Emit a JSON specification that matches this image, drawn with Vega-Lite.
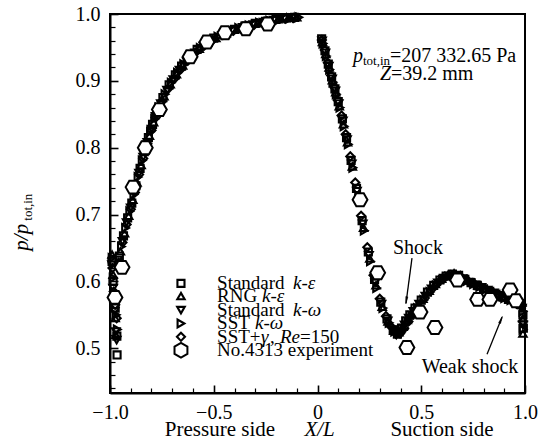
{
  "$schema": "https://vega.github.io/schema/vega-lite/v6.json",
  "width": 415,
  "height": 379,
  "autosize": "none",
  "padding": {"left": 110, "top": 14, "right": 17, "bottom": 48},
  "background": "white",
  "config": {
    "view": {"stroke": "black", "strokeWidth": 2},
    "font": "Liberation Serif"
  },
  "resolve": {"axis": {"x": "independent", "y": "independent"}},
  "datasets": {
    "cfd": [
      {"m":"a","x":-0.99,"y":0.63},{"m":"a","x":-0.985,"y":0.6},{"m":"a","x":-0.975,"y":0.56},{"m":"a","x":-0.967,"y":0.518},{"m":"a","x":-0.966,"y":0.49},{"m":"a","x":-0.955,"y":0.638},{"m":"a","x":-0.935,"y":0.668},{"m":"a","x":-0.915,"y":0.695},{"m":"a","x":-0.895,"y":0.717},{"m":"a","x":-0.875,"y":0.743},{"m":"a","x":-0.855,"y":0.769},{"m":"a","x":-0.835,"y":0.794},{"m":"a","x":-0.815,"y":0.815},{"m":"a","x":-0.795,"y":0.835},{"m":"a","x":-0.775,"y":0.853},{"m":"a","x":-0.745,"y":0.875},{"m":"a","x":-0.715,"y":0.894},{"m":"a","x":-0.685,"y":0.909},{"m":"a","x":-0.655,"y":0.922},{"m":"a","x":-0.62,"y":0.935},{"m":"a","x":-0.58,"y":0.947},{"m":"a","x":-0.54,"y":0.956},{"m":"a","x":-0.5,"y":0.964},{"m":"a","x":-0.45,"y":0.971},{"m":"a","x":-0.4,"y":0.977},{"m":"a","x":-0.35,"y":0.982},{"m":"a","x":-0.3,"y":0.986},{"m":"a","x":-0.25,"y":0.989},{"m":"a","x":-0.2,"y":0.992},{"m":"a","x":-0.15,"y":0.994},{"m":"a","x":-0.11,"y":0.995},
      {"m":"a","x":0.02,"y":0.963},{"m":"a","x":0.036,"y":0.945},{"m":"a","x":0.052,"y":0.925},{"m":"a","x":0.068,"y":0.906},{"m":"a","x":0.084,"y":0.888},{"m":"a","x":0.1,"y":0.869},{"m":"a","x":0.12,"y":0.843},{"m":"a","x":0.14,"y":0.815},{"m":"a","x":0.162,"y":0.781},{"m":"a","x":0.188,"y":0.739},{"m":"a","x":0.215,"y":0.691},{"m":"a","x":0.245,"y":0.644},{"m":"a","x":0.275,"y":0.603},{"m":"a","x":0.305,"y":0.569},{"m":"a","x":0.335,"y":0.544},{"m":"a","x":0.365,"y":0.527},{"m":"a","x":0.385,"y":0.521},{"m":"a","x":0.405,"y":0.53},{"m":"a","x":0.425,"y":0.541},{"m":"a","x":0.445,"y":0.55},{"m":"a","x":0.47,"y":0.56},{"m":"a","x":0.5,"y":0.572},{"m":"a","x":0.53,"y":0.584},{"m":"a","x":0.56,"y":0.594},{"m":"a","x":0.59,"y":0.602},{"m":"a","x":0.62,"y":0.608},{"m":"a","x":0.65,"y":0.611},{"m":"a","x":0.68,"y":0.609},{"m":"a","x":0.71,"y":0.603},{"m":"a","x":0.74,"y":0.598},{"m":"a","x":0.77,"y":0.594},{"m":"a","x":0.8,"y":0.589},{"m":"a","x":0.83,"y":0.585},{"m":"a","x":0.86,"y":0.581},{"m":"a","x":0.89,"y":0.577},{"m":"a","x":0.92,"y":0.573},{"m":"a","x":0.95,"y":0.571},{"m":"a","x":0.975,"y":0.567},{"m":"a","x":0.99,"y":0.55},{"m":"a","x":0.992,"y":0.53},
      {"m":"b","x":-0.99,"y":0.64},{"m":"b","x":-0.985,"y":0.61},{"m":"b","x":-0.98,"y":0.575},{"m":"b","x":-0.975,"y":0.545},{"m":"b","x":-0.972,"y":0.52},{"m":"b","x":-0.95,"y":0.645},{"m":"b","x":-0.93,"y":0.672},{"m":"b","x":-0.91,"y":0.698},{"m":"b","x":-0.89,"y":0.722},{"m":"b","x":-0.87,"y":0.748},{"m":"b","x":-0.85,"y":0.774},{"m":"b","x":-0.83,"y":0.798},{"m":"b","x":-0.81,"y":0.818},{"m":"b","x":-0.79,"y":0.838},{"m":"b","x":-0.77,"y":0.856},{"m":"b","x":-0.74,"y":0.877},{"m":"b","x":-0.71,"y":0.895},{"m":"b","x":-0.68,"y":0.91},{"m":"b","x":-0.65,"y":0.923},{"m":"b","x":-0.61,"y":0.937},{"m":"b","x":-0.57,"y":0.948},{"m":"b","x":-0.53,"y":0.957},{"m":"b","x":-0.49,"y":0.964},{"m":"b","x":-0.44,"y":0.971},{"m":"b","x":-0.39,"y":0.977},{"m":"b","x":-0.34,"y":0.982},{"m":"b","x":-0.29,"y":0.986},{"m":"b","x":-0.24,"y":0.989},{"m":"b","x":-0.19,"y":0.992},{"m":"b","x":-0.14,"y":0.994},{"m":"b","x":-0.1,"y":0.995},
      {"m":"b","x":0.024,"y":0.958},{"m":"b","x":0.04,"y":0.94},{"m":"b","x":0.056,"y":0.92},{"m":"b","x":0.072,"y":0.901},{"m":"b","x":0.088,"y":0.883},{"m":"b","x":0.105,"y":0.862},{"m":"b","x":0.125,"y":0.835},{"m":"b","x":0.145,"y":0.808},{"m":"b","x":0.168,"y":0.772},{"m":"b","x":0.195,"y":0.727},{"m":"b","x":0.222,"y":0.68},{"m":"b","x":0.252,"y":0.634},{"m":"b","x":0.282,"y":0.594},{"m":"b","x":0.312,"y":0.562},{"m":"b","x":0.34,"y":0.54},{"m":"b","x":0.368,"y":0.526},{"m":"b","x":0.392,"y":0.524},{"m":"b","x":0.412,"y":0.532},{"m":"b","x":0.432,"y":0.542},{"m":"b","x":0.452,"y":0.551},{"m":"b","x":0.478,"y":0.562},{"m":"b","x":0.508,"y":0.574},{"m":"b","x":0.538,"y":0.586},{"m":"b","x":0.568,"y":0.596},{"m":"b","x":0.598,"y":0.604},{"m":"b","x":0.628,"y":0.609},{"m":"b","x":0.658,"y":0.612},{"m":"b","x":0.688,"y":0.609},{"m":"b","x":0.718,"y":0.603},{"m":"b","x":0.748,"y":0.598},{"m":"b","x":0.778,"y":0.593},{"m":"b","x":0.808,"y":0.589},{"m":"b","x":0.838,"y":0.585},{"m":"b","x":0.868,"y":0.58},{"m":"b","x":0.898,"y":0.576},{"m":"b","x":0.928,"y":0.573},{"m":"b","x":0.958,"y":0.571},{"m":"b","x":0.98,"y":0.565},{"m":"b","x":0.99,"y":0.545},{"m":"b","x":0.99,"y":0.522},
      {"m":"c","x":-0.99,"y":0.625},{"m":"c","x":-0.985,"y":0.59},{"m":"c","x":-0.978,"y":0.555},{"m":"c","x":-0.972,"y":0.525},{"m":"c","x":-0.968,"y":0.512},{"m":"c","x":-0.96,"y":0.632},{"m":"c","x":-0.94,"y":0.66},{"m":"c","x":-0.92,"y":0.688},{"m":"c","x":-0.9,"y":0.71},{"m":"c","x":-0.88,"y":0.735},{"m":"c","x":-0.86,"y":0.762},{"m":"c","x":-0.84,"y":0.786},{"m":"c","x":-0.82,"y":0.808},{"m":"c","x":-0.8,"y":0.828},{"m":"c","x":-0.78,"y":0.847},{"m":"c","x":-0.755,"y":0.866},{"m":"c","x":-0.725,"y":0.886},{"m":"c","x":-0.695,"y":0.902},{"m":"c","x":-0.665,"y":0.916},{"m":"c","x":-0.63,"y":0.929},{"m":"c","x":-0.59,"y":0.942},{"m":"c","x":-0.55,"y":0.952},{"m":"c","x":-0.51,"y":0.96},{"m":"c","x":-0.46,"y":0.968},{"m":"c","x":-0.41,"y":0.975},{"m":"c","x":-0.36,"y":0.98},{"m":"c","x":-0.31,"y":0.984},{"m":"c","x":-0.26,"y":0.988},{"m":"c","x":-0.21,"y":0.991},{"m":"c","x":-0.16,"y":0.993},{"m":"c","x":-0.12,"y":0.994},
      {"m":"c","x":0.022,"y":0.96},{"m":"c","x":0.038,"y":0.942},{"m":"c","x":0.054,"y":0.922},{"m":"c","x":0.07,"y":0.903},{"m":"c","x":0.086,"y":0.885},{"m":"c","x":0.102,"y":0.866},{"m":"c","x":0.122,"y":0.84},{"m":"c","x":0.142,"y":0.812},{"m":"c","x":0.165,"y":0.776},{"m":"c","x":0.19,"y":0.735},{"m":"c","x":0.218,"y":0.686},{"m":"c","x":0.248,"y":0.639},{"m":"c","x":0.278,"y":0.598},{"m":"c","x":0.308,"y":0.566},{"m":"c","x":0.338,"y":0.541},{"m":"c","x":0.36,"y":0.528},{"m":"c","x":0.38,"y":0.52},{"m":"c","x":0.4,"y":0.524},{"m":"c","x":0.42,"y":0.535},{"m":"c","x":0.44,"y":0.545},{"m":"c","x":0.462,"y":0.555},{"m":"c","x":0.49,"y":0.566},{"m":"c","x":0.52,"y":0.578},{"m":"c","x":0.55,"y":0.589},{"m":"c","x":0.58,"y":0.598},{"m":"c","x":0.61,"y":0.605},{"m":"c","x":0.64,"y":0.608},{"m":"c","x":0.67,"y":0.608},{"m":"c","x":0.7,"y":0.604},{"m":"c","x":0.73,"y":0.599},{"m":"c","x":0.76,"y":0.595},{"m":"c","x":0.79,"y":0.591},{"m":"c","x":0.82,"y":0.587},{"m":"c","x":0.85,"y":0.583},{"m":"c","x":0.88,"y":0.579},{"m":"c","x":0.91,"y":0.575},{"m":"c","x":0.94,"y":0.572},{"m":"c","x":0.965,"y":0.569},{"m":"c","x":0.985,"y":0.56},{"m":"c","x":0.99,"y":0.535},
      {"m":"d","x":-0.99,"y":0.635},{"m":"d","x":-0.985,"y":0.605},{"m":"d","x":-0.978,"y":0.58},{"m":"d","x":-0.97,"y":0.55},{"m":"d","x":-0.965,"y":0.528},{"m":"d","x":-0.945,"y":0.652},{"m":"d","x":-0.925,"y":0.68},{"m":"d","x":-0.905,"y":0.705},{"m":"d","x":-0.885,"y":0.73},{"m":"d","x":-0.865,"y":0.756},{"m":"d","x":-0.845,"y":0.781},{"m":"d","x":-0.825,"y":0.803},{"m":"d","x":-0.805,"y":0.824},{"m":"d","x":-0.785,"y":0.843},{"m":"d","x":-0.765,"y":0.86},{"m":"d","x":-0.735,"y":0.88},{"m":"d","x":-0.705,"y":0.897},{"m":"d","x":-0.675,"y":0.912},{"m":"d","x":-0.645,"y":0.925},{"m":"d","x":-0.605,"y":0.938},{"m":"d","x":-0.565,"y":0.949},{"m":"d","x":-0.525,"y":0.958},{"m":"d","x":-0.48,"y":0.966},{"m":"d","x":-0.43,"y":0.973},{"m":"d","x":-0.38,"y":0.979},{"m":"d","x":-0.33,"y":0.983},{"m":"d","x":-0.28,"y":0.987},{"m":"d","x":-0.23,"y":0.99},{"m":"d","x":-0.18,"y":0.992},{"m":"d","x":-0.13,"y":0.994},{"m":"d","x":-0.09,"y":0.995},
      {"m":"d","x":0.026,"y":0.956},{"m":"d","x":0.042,"y":0.937},{"m":"d","x":0.058,"y":0.917},{"m":"d","x":0.074,"y":0.898},{"m":"d","x":0.09,"y":0.88},{"m":"d","x":0.108,"y":0.86},{"m":"d","x":0.128,"y":0.832},{"m":"d","x":0.148,"y":0.805},{"m":"d","x":0.17,"y":0.77},{"m":"d","x":0.198,"y":0.724},{"m":"d","x":0.225,"y":0.676},{"m":"d","x":0.255,"y":0.63},{"m":"d","x":0.285,"y":0.59},{"m":"d","x":0.315,"y":0.56},{"m":"d","x":0.345,"y":0.538},{"m":"d","x":0.372,"y":0.525},{"m":"d","x":0.395,"y":0.522},{"m":"d","x":0.415,"y":0.528},{"m":"d","x":0.435,"y":0.538},{"m":"d","x":0.455,"y":0.548},{"m":"d","x":0.482,"y":0.56},{"m":"d","x":0.512,"y":0.572},{"m":"d","x":0.542,"y":0.584},{"m":"d","x":0.572,"y":0.594},{"m":"d","x":0.602,"y":0.602},{"m":"d","x":0.632,"y":0.607},{"m":"d","x":0.662,"y":0.609},{"m":"d","x":0.692,"y":0.606},{"m":"d","x":0.722,"y":0.601},{"m":"d","x":0.752,"y":0.596},{"m":"d","x":0.782,"y":0.592},{"m":"d","x":0.812,"y":0.588},{"m":"d","x":0.842,"y":0.584},{"m":"d","x":0.872,"y":0.579},{"m":"d","x":0.902,"y":0.575},{"m":"d","x":0.932,"y":0.572},{"m":"d","x":0.962,"y":0.57},{"m":"d","x":0.982,"y":0.566},{"m":"d","x":0.99,"y":0.555},{"m":"d","x":0.99,"y":0.528},
      {"m":"e","x":-0.988,"y":0.62},{"m":"e","x":-0.982,"y":0.585},{"m":"e","x":-0.975,"y":0.565},{"m":"e","x":-0.968,"y":0.545},{"m":"e","x":-0.958,"y":0.628},{"m":"e","x":-0.94,"y":0.658},{"m":"e","x":-0.92,"y":0.685},{"m":"e","x":-0.9,"y":0.708},{"m":"e","x":-0.88,"y":0.733},{"m":"e","x":-0.86,"y":0.76},{"m":"e","x":-0.84,"y":0.784},{"m":"e","x":-0.82,"y":0.806},{"m":"e","x":-0.8,"y":0.826},{"m":"e","x":-0.78,"y":0.845},{"m":"e","x":-0.75,"y":0.869},{"m":"e","x":-0.72,"y":0.888},{"m":"e","x":-0.69,"y":0.903},{"m":"e","x":-0.66,"y":0.917},{"m":"e","x":-0.625,"y":0.93},{"m":"e","x":-0.585,"y":0.943},{"m":"e","x":-0.545,"y":0.953},{"m":"e","x":-0.505,"y":0.961},{"m":"e","x":-0.455,"y":0.969},{"m":"e","x":-0.405,"y":0.975},{"m":"e","x":-0.355,"y":0.98},{"m":"e","x":-0.305,"y":0.984},{"m":"e","x":-0.255,"y":0.988},{"m":"e","x":-0.205,"y":0.991},{"m":"e","x":-0.155,"y":0.993},{"m":"e","x":-0.115,"y":0.994},
      {"m":"e","x":0.021,"y":0.961},{"m":"e","x":0.035,"y":0.946},{"m":"e","x":0.05,"y":0.927},{"m":"e","x":0.066,"y":0.908},{"m":"e","x":0.082,"y":0.89},{"m":"e","x":0.098,"y":0.871},{"m":"e","x":0.116,"y":0.848},{"m":"e","x":0.136,"y":0.82},{"m":"e","x":0.158,"y":0.787},{"m":"e","x":0.182,"y":0.748},{"m":"e","x":0.21,"y":0.698},{"m":"e","x":0.24,"y":0.651},{"m":"e","x":0.27,"y":0.609},{"m":"e","x":0.3,"y":0.574},{"m":"e","x":0.33,"y":0.548},{"m":"e","x":0.355,"y":0.532},{"m":"e","x":0.378,"y":0.523},{"m":"e","x":0.398,"y":0.522},{"m":"e","x":0.418,"y":0.53},{"m":"e","x":0.438,"y":0.54},{"m":"e","x":0.46,"y":0.55},{"m":"e","x":0.487,"y":0.562},{"m":"e","x":0.517,"y":0.575},{"m":"e","x":0.547,"y":0.587},{"m":"e","x":0.577,"y":0.597},{"m":"e","x":0.607,"y":0.604},{"m":"e","x":0.637,"y":0.608},{"m":"e","x":0.667,"y":0.609},{"m":"e","x":0.697,"y":0.605},{"m":"e","x":0.727,"y":0.6},{"m":"e","x":0.757,"y":0.596},{"m":"e","x":0.787,"y":0.592},{"m":"e","x":0.817,"y":0.587},{"m":"e","x":0.847,"y":0.583},{"m":"e","x":0.877,"y":0.579},{"m":"e","x":0.907,"y":0.575},{"m":"e","x":0.937,"y":0.572},{"m":"e","x":0.967,"y":0.57},{"m":"e","x":0.985,"y":0.563},{"m":"e","x":0.99,"y":0.54}
    ],
    "exp": [
      {"x":-0.976,"y":0.576},{"x":-0.942,"y":0.621},{"x":-0.889,"y":0.741},{"x":-0.83,"y":0.8},{"x":-0.762,"y":0.857},{"x":-0.614,"y":0.936},{"x":-0.533,"y":0.958},{"x":-0.446,"y":0.972},{"x":-0.345,"y":0.978},{"x":-0.24,"y":0.985},
      {"x":0.205,"y":0.722},{"x":0.29,"y":0.613},{"x":0.431,"y":0.501},{"x":0.494,"y":0.554},{"x":0.566,"y":0.531},{"x":0.675,"y":0.602},{"x":0.772,"y":0.573},{"x":0.831,"y":0.573},{"x":0.928,"y":0.587},{"x":0.956,"y":0.571}
    ],
    "leg": [
      {"m":"a","x":-0.658,"y":0.597},{"m":"b","x":-0.658,"y":0.578},{"m":"c","x":-0.658,"y":0.557},{"m":"d","x":-0.658,"y":0.537},{"m":"e","x":-0.658,"y":0.517}
    ],
    "legx": [
      {"x":-0.658,"y":0.497}
    ],
    "txt": [
      {"t":"Standard","x":-0.484,"y":0.597,"sz":19,"it":0,"al":"l"},
      {"t":"k-ε","x":-0.118,"y":0.597,"sz":19,"it":1,"al":"l"},
      {"t":"RNG","x":-0.484,"y":0.578,"sz":19,"it":0,"al":"l"},
      {"t":"k-ε","x":-0.267,"y":0.578,"sz":19,"it":1,"al":"l"},
      {"t":"Standard","x":-0.484,"y":0.557,"sz":19,"it":0,"al":"l"},
      {"t":"k-ω","x":-0.118,"y":0.557,"sz":19,"it":1,"al":"l"},
      {"t":"SST","x":-0.484,"y":0.537,"sz":19,"it":0,"al":"l"},
      {"t":"k-ω","x":-0.301,"y":0.537,"sz":19,"it":1,"al":"l"},
      {"t":"SST+","x":-0.484,"y":0.517,"sz":19,"it":0,"al":"l"},
      {"t":"γ","x":-0.272,"y":0.517,"sz":19,"it":1,"al":"l"},
      {"t":",","x":-0.229,"y":0.517,"sz":19,"it":0,"al":"l"},
      {"t":"Re","x":-0.181,"y":0.517,"sz":19,"it":1,"al":"l"},
      {"t":"=150","x":-0.084,"y":0.517,"sz":19,"it":0,"al":"l"},
      {"t":"No.4313 experiment","x":-0.484,"y":0.497,"sz":19,"it":0,"al":"l"},
      {"t":"p","x":0.171,"y":0.9371,"sz":20,"it":1,"al":"l"},
      {"t":"tot,in","x":0.219,"y":0.9296,"sz":13,"it":0,"al":"l"},
      {"t":"=207 332.65 Pa","x":0.349,"y":0.9371,"sz":20,"it":0,"al":"l"},
      {"t":"Z","x":0.301,"y":0.910,"sz":20,"it":1,"al":"l"},
      {"t":"=39.2 mm","x":0.354,"y":0.910,"sz":20,"it":0,"al":"l"},
      {"t":"Shock","x":0.484,"y":0.6497,"sz":20,"it":0,"al":"c"},
      {"t":"Weak shock","x":0.735,"y":0.4716,"sz":20,"it":0,"al":"c"},
      {"t":"Pressure side","x":-0.47,"y":0.3775,"sz":21,"it":0,"al":"c"},
      {"t":"X/L","x":0.01,"y":0.3775,"sz":21,"it":1,"al":"c"},
      {"t":"Suction side","x":0.6,"y":0.3775,"sz":21,"it":0,"al":"c"}
    ],
    "ytitle": [
      {"t":"p/p","x":-1.424,"y":0.666,"sz":21,"it":1},
      {"t":"tot,in","x":-1.395,"y":0.711,"sz":13,"it":0}
    ],
    "arr": [
      {"x":0.4554,"y":0.6347,"x2":0.4265,"y2":0.5674,"hx":0.4289,"hy":0.5734,"ang":187.6},
      {"x":0.817,"y":0.491,"x2":0.8892,"y2":0.5464,"hx":0.882,"hy":0.5409,"ang":22}
    ]
  },
  "layer": [
    {
      "data": {"name": "cfd"},
      "mark": {"type": "point", "filled": false, "stroke": "black", "strokeWidth": 2.1, "opacity": 1},
      "encoding": {
        "x": {
          "field": "x", "type": "quantitative",
          "scale": {"domain": [-1, 1], "nice": false, "zero": false},
          "axis": {
            "orient": "bottom", "title": null, "grid": false,
            "values": [-1,-0.5,0,0.5,1],
            "labelExpr": "abs(datum.value) < 0.000001 ? '0' : format(datum.value, '.1f')",
            "tickSize": -8, "tickColor": "black", "tickWidth": 1.6,
            "domainColor": "black", "domainWidth": 2,
            "labelFont": "Liberation Serif", "labelFontSize": 20, "labelColor": "black",
            "labelPadding": 17, "labelOverlap": false, "labelFlush": false
          }
        },
        "y": {
          "field": "y", "type": "quantitative",
          "scale": {"domain": [0.433, 1], "nice": false, "zero": false},
          "axis": {
            "orient": "left", "title": null, "grid": false,
            "values": [0.5,0.6,0.7,0.8,0.9,1],
            "labelExpr": "format(datum.value, '.1f')",
            "tickSize": -8, "tickColor": "black", "tickWidth": 1.6,
            "domainColor": "black", "domainWidth": 2,
            "labelFont": "Liberation Serif", "labelFontSize": 20, "labelColor": "black",
            "labelPadding": 18, "labelOverlap": false, "labelFlush": false
          }
        },
        "shape": {"field": "m", "type": "nominal", "legend": null,
          "scale": {"domain": ["a","b","c","d","e"], "range": ["square","triangle-up","triangle-down","triangle-right","diamond"]}},
        "size": {"field": "m", "type": "ordinal", "legend": null,
          "scale": {"domain": ["a","b","c","d","e"], "range": [50,65,65,65,80]}}
      }
    },
    {
      "data": {"name": "exp"},
      "mark": {"type": "point", "filled": true, "fill": "white", "stroke": "black", "strokeWidth": 2, "opacity": 1, "size": 220,
        "shape": "M-1,0L-0.5,-0.87L0.5,-0.87L1,0L0.5,0.87L-0.5,0.87Z"},
      "encoding": {
        "x": {"field": "x", "type": "quantitative",
          "axis": {"orient": "bottom", "title": null, "grid": false, "labels": false, "domain": false,
            "values": [-0.9,-0.8,-0.7,-0.6,-0.4,-0.3,-0.2,-0.1,0.1,0.2,0.3,0.4,0.6,0.7,0.8,0.9],
            "tickSize": -5, "tickColor": "black", "tickWidth": 1.2}},
        "y": {"field": "y", "type": "quantitative",
          "axis": {"orient": "left", "title": null, "grid": false, "labels": false, "domain": false,
            "values": [0.44,0.46,0.48,0.52,0.54,0.56,0.58,0.62,0.64,0.66,0.68,0.72,0.74,0.76,0.78,0.82,0.84,0.86,0.88,0.92,0.94,0.96,0.98],
            "tickSize": -5, "tickColor": "black", "tickWidth": 1.2}}
      }
    },
    {
      "data": {"name": "leg"},
      "mark": {"type": "point", "filled": false, "stroke": "black", "strokeWidth": 2.1, "opacity": 1},
      "encoding": {
        "x": {"field": "x", "type": "quantitative", "axis": null},
        "y": {"field": "y", "type": "quantitative", "axis": null},
        "shape": {"field": "m", "type": "nominal", "legend": null},
        "size": {"field": "m", "type": "ordinal", "legend": null}
      }
    },
    {
      "data": {"name": "legx"},
      "mark": {"type": "point", "filled": true, "fill": "white", "stroke": "black", "strokeWidth": 2, "opacity": 1, "size": 220,
        "shape": "M0,-1L0.87,-0.5L0.87,0.5L0,1L-0.87,0.5L-0.87,-0.5Z"},
      "encoding": {
        "x": {"field": "x", "type": "quantitative", "axis": null},
        "y": {"field": "y", "type": "quantitative", "axis": null}
      }
    },
    {
      "data": {"name": "arr"},
      "mark": {"type": "rule", "stroke": "black", "strokeWidth": 1.3},
      "encoding": {
        "x": {"field": "x", "type": "quantitative", "axis": null},
        "y": {"field": "y", "type": "quantitative", "axis": null},
        "x2": {"field": "x2"},
        "y2": {"field": "y2"}
      }
    },
    {
      "data": {"name": "arr"},
      "mark": {"type": "point", "shape": "wedge", "filled": true, "fill": "black", "stroke": "black", "strokeWidth": 0.5, "size": 70, "opacity": 1},
      "encoding": {
        "x": {"field": "hx", "type": "quantitative", "axis": null},
        "y": {"field": "hy", "type": "quantitative", "axis": null},
        "angle": {"field": "ang", "type": "quantitative", "scale": null}
      }
    },
    {
      "data": {"name": "txt"},
      "transform": [{"filter": "datum.it == 0 && datum.al == 'l'"}],
      "mark": {"type": "text", "align": "left", "baseline": "middle", "font": "Liberation Serif", "color": "black"},
      "encoding": {
        "x": {"field": "x", "type": "quantitative", "axis": null},
        "y": {"field": "y", "type": "quantitative", "axis": null},
        "text": {"field": "t"},
        "size": {"field": "sz", "type": "quantitative", "scale": null}
      }
    },
    {
      "data": {"name": "txt"},
      "transform": [{"filter": "datum.it == 1 && datum.al == 'l'"}],
      "mark": {"type": "text", "align": "left", "baseline": "middle", "font": "Liberation Serif", "fontStyle": "italic", "color": "black"},
      "encoding": {
        "x": {"field": "x", "type": "quantitative", "axis": null},
        "y": {"field": "y", "type": "quantitative", "axis": null},
        "text": {"field": "t"},
        "size": {"field": "sz", "type": "quantitative", "scale": null}
      }
    },
    {
      "data": {"name": "txt"},
      "transform": [{"filter": "datum.it == 0 && datum.al == 'c'"}],
      "mark": {"type": "text", "align": "center", "baseline": "middle", "font": "Liberation Serif", "color": "black"},
      "encoding": {
        "x": {"field": "x", "type": "quantitative", "axis": null},
        "y": {"field": "y", "type": "quantitative", "axis": null},
        "text": {"field": "t"},
        "size": {"field": "sz", "type": "quantitative", "scale": null}
      }
    },
    {
      "data": {"name": "txt"},
      "transform": [{"filter": "datum.it == 1 && datum.al == 'c'"}],
      "mark": {"type": "text", "align": "center", "baseline": "middle", "font": "Liberation Serif", "fontStyle": "italic", "color": "black"},
      "encoding": {
        "x": {"field": "x", "type": "quantitative", "axis": null},
        "y": {"field": "y", "type": "quantitative", "axis": null},
        "text": {"field": "t"},
        "size": {"field": "sz", "type": "quantitative", "scale": null}
      }
    },
    {
      "data": {"name": "ytitle"},
      "transform": [{"filter": "datum.it == 1"}],
      "mark": {"type": "text", "align": "center", "baseline": "middle", "angle": 270, "font": "Liberation Serif", "fontStyle": "italic", "color": "black"},
      "encoding": {
        "x": {"field": "x", "type": "quantitative", "axis": null},
        "y": {"field": "y", "type": "quantitative", "axis": null},
        "text": {"field": "t"},
        "size": {"field": "sz", "type": "quantitative", "scale": null}
      }
    },
    {
      "data": {"name": "ytitle"},
      "transform": [{"filter": "datum.it == 0"}],
      "mark": {"type": "text", "align": "center", "baseline": "middle", "angle": 270, "font": "Liberation Serif", "color": "black"},
      "encoding": {
        "x": {"field": "x", "type": "quantitative", "axis": null},
        "y": {"field": "y", "type": "quantitative", "axis": null},
        "text": {"field": "t"},
        "size": {"field": "sz", "type": "quantitative", "scale": null}
      }
    }
  ]
}
